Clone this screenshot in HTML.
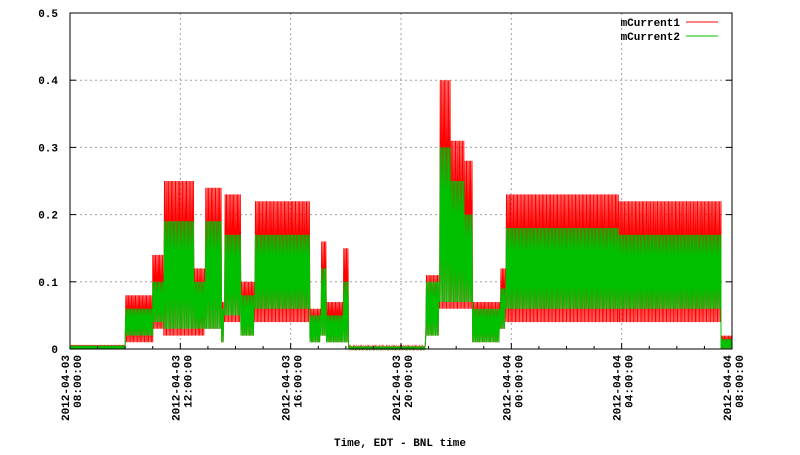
<!DOCTYPE html>
<html><head><meta charset="utf-8"><style>
body{margin:0;background:#fff}
svg text{font-family:"Liberation Mono",monospace;font-weight:bold;font-size:11px;fill:#000}
</style></head><body>
<svg id="chart" width="800" height="450" xmlns="http://www.w3.org/2000/svg">
<g id="grid"></g>
<g id="series"></g>
<g id="axes"></g>
<text x="400" y="446" text-anchor="middle">Time, EDT - BNL time</text>
<g>
<text x="680" y="26" text-anchor="end">mCurrent1</text>
<line x1="686" y1="22" x2="718" y2="22" stroke="#ff0000"/>
<text x="680" y="40" text-anchor="end">mCurrent2</text>
<line x1="686" y1="36" x2="718" y2="36" stroke="#00c000"/>
</g>
</svg>
<script>
// segment data: start hour, end hour (from 2012-04-03 08:00), envelope values
const segStart = [0,2.0,3.0,3.4,4.5,4.9,5.5,5.6,6.2,6.7,8.7,9.1,9.3,9.9,10.1,12.9,13.4,13.8,14.3,14.6,15.6,15.8,19.9,23.6];
const segEnd   = [2.0,3.0,3.4,4.5,4.9,5.5,5.6,6.2,6.7,8.7,9.1,9.3,9.9,10.1,12.9,13.4,13.8,14.3,14.6,15.6,15.8,19.9,23.6,24];
const hi1 = [0.006,0.08,0.14,0.25,0.12,0.24,0.07,0.23,0.1,0.22,0.06,0.16,0.07,0.15,0.004,0.11,0.40,0.31,0.28,0.07,0.12,0.23,0.22,0.02];
const lo1 = [0.0,0.01,0.03,0.02,0.02,0.03,0.01,0.04,0.02,0.04,0.01,0.02,0.01,0.01,0.0,0.02,0.06,0.06,0.06,0.01,0.03,0.04,0.04,0.0];
const hi2 = [0.005,0.06,0.1,0.19,0.1,0.19,0.06,0.17,0.08,0.17,0.05,0.12,0.05,0.1,0.003,0.1,0.30,0.25,0.20,0.06,0.09,0.18,0.17,0.015];
const lo2 = [0.0,0.02,0.04,0.03,0.03,0.03,0.01,0.05,0.02,0.06,0.01,0.02,0.01,0.01,0.0,0.02,0.07,0.07,0.07,0.01,0.03,0.06,0.06,0.0];
const yTicks = [0,0.1,0.2,0.3,0.4,0.5];
const yTickLabels = ["0","0.1","0.2","0.3","0.4","0.5"];
const xTicks = [0,4,8,12,16,20,24];
const xDates = ["2012-04-03","2012-04-03","2012-04-03","2012-04-03","2012-04-04","2012-04-04","2012-04-04"];
const xTimes = ["08:00:00","12:00:00","16:00:00","20:00:00","00:00:00","04:00:00","08:00:00"];

const L=70,R=732,T=13,B=349,NS="http://www.w3.org/2000/svg";
const xs=h=>L+h/24*(R-L), ys=v=>B-v/0.5*(B-T);
function mk(tag,attrs,parent){const e=document.createElementNS(NS,tag);for(const k in attrs)e.setAttribute(k,attrs[k]);parent.appendChild(e);return e;}
const grid=document.getElementById('grid'),axes=document.getElementById('axes'),series=document.getElementById('series');
yTicks.forEach((v,i)=>{
  if(i>0&&i<yTicks.length-1){const g=mk('line',{x1:L,x2:R,y1:ys(v),y2:ys(v),stroke:'#a0a0a0','stroke-dasharray':'2,3'},grid);
  
  }
  const t=mk('line',{x1:L,x2:L+6,y1:ys(v),y2:ys(v),stroke:'#000'},axes);
  
  
  mk('line',{x1:R-6,x2:R,y1:ys(v),y2:ys(v),stroke:'#000'},axes);
  const tx=mk('text',{x:L-12,y:ys(v)+4,'text-anchor':'end'},axes);tx.textContent=yTickLabels[i];
  
  
});
xTicks.forEach((h,i)=>{
  const x=xs(h);
  if(i>0&&i<xTicks.length-1){const g=mk('line',{x1:x,x2:x,y1:T,y2:B,stroke:'#a0a0a0','stroke-dasharray':'2,3'},grid);
  
  }
  mk('line',{x1:x,x2:x,y1:B,y2:B-6,stroke:'#000'},axes);
  const tx=mk('text',{transform:`translate(${x},355) rotate(-90)`,'text-anchor':'end'},axes);
  
  
  const a=mk('tspan',{x:0,y:-1},tx);a.textContent=xDates[i];
  const b=mk('tspan',{x:0,y:11},tx);b.textContent=xTimes[i];
});
for(let h=0;h<24;h+=1){if(h%4){mk('line',{x1:xs(h),x2:xs(h),y1:B,y2:B-3,stroke:'#000'},axes);}}
const frame=mk('rect',{x:L,y:T,width:R-L,height:B-T,fill:'none',stroke:'#000'},axes);


function draw(hi,lo,color,name){
  let d='',k=0;
  for(let s=0;s<segStart.length;s++){
    for(let h=segStart[s];h<segEnd[s];h+=0.025){
      const v=(k++%2)?lo[s]:hi[s];
      d+=(d?'L':'M')+xs(h).toFixed(1)+','+ys(v).toFixed(1);
    }
  }
  const p=mk('path',{d:d,fill:'none',stroke:color,'stroke-width':1},series);
  
  
}
draw(hi1,lo1,'#ff0000','series-mcurrent1');
draw(hi2,lo2,'#00c000','series-mcurrent2');
</script>
</body></html>
